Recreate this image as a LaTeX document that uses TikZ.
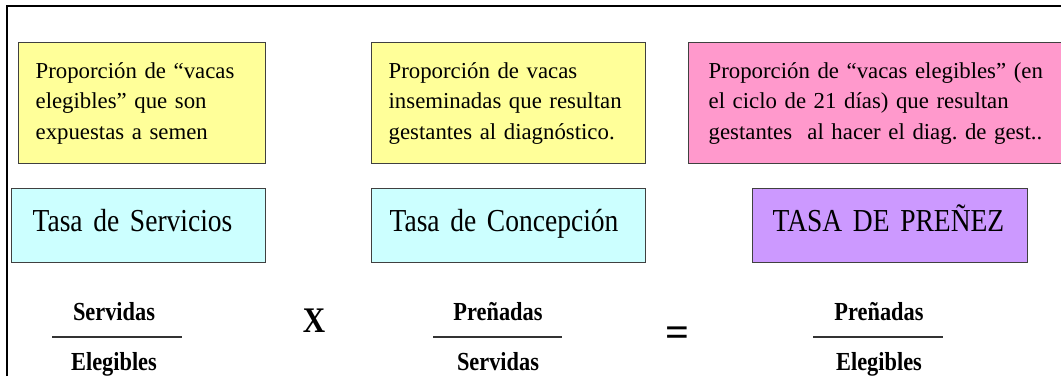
\documentclass[tikz,border=0pt]{standalone}
\usepackage{fontspec}
\setmainfont{Liberation Serif}
\newfontfamily\estrecha[FakeStretch=0.86]{Liberation Serif}
\usepackage{tikz}
\usetikzlibrary{positioning}

\definecolor{amarillo}{HTML}{FFFF99}
\definecolor{celeste}{HTML}{CCFFFF}
\definecolor{rosa}{HTML}{FF99CC}
\definecolor{lila}{HTML}{CC99FF}

\tikzset{
  caja/.style={draw=black!75, line width=1.3pt, anchor=north west, align=left, inner ysep=0pt},
  nota/.style={caja, font=\fontsize{22.8}{30.5}\selectfont\frenchspacing, minimum height=121pt},
  tasa/.style={caja, font=\estrecha\fontsize{32}{34}\selectfont, minimum height=74pt, text height=22pt, text depth=10pt},
  frac/.style={font=\estrecha\bfseries\fontsize{26}{28}\selectfont, anchor=base},
  barra/.style={line width=2pt, black!80}
}

\begin{document}
\begin{tikzpicture}[x=1pt, y=-1pt]
            \clip (0,0) rectangle (1061,376);             % page size
            \draw [line width=1.5pt] (7,376) -- (7,6) -- (1061,6);   % frame
            % definitions
            \node [nota, fill=amarillo, inner xsep=17pt, text width=213pt] (def1) at (18,42)
              {Proporción de “vacas\\elegibles” que son\\expuestas a semen};
            \node [nota, fill=amarillo, inner xsep=17pt, text width=240pt] (def2) at (371,42)
              {Proporción de vacas\\inseminadas que resultan\\gestantes al diagnóstico.};
            \node [nota, fill=rosa, inner xsep=20pt, text width=370pt] (def3) at (688,42)
              {Proporción de “vacas elegibles” (en\\el ciclo de 21 días) que resultan\\gestantes \ al hacer el diag. de gest..};
            % rates
            \node [tasa, fill=celeste, inner xsep=21pt, text width=212pt] (tasa1) at (11,188) {Tasa de Servicios};
            \node [tasa, fill=celeste, inner xsep=18pt, text width=238pt] (tasa2) at (371,188) {Tasa de Concepción};
            \node [tasa, fill=lila, inner xsep=20pt, text width=235pt] (tasa3) at (752,188) {TASA DE PREÑEZ};
            % formula
            \node [frac] (num1) at (114,320) {Servidas};
            \node [frac] (den1) at (114,370) {Elegibles};
            \draw [barra] (52,337) -- (182,337);
            \node [frac, font=\estrecha\bfseries\fontsize{36}{38}\selectfont] (por) at (314,332) {X};
            \node [frac] (num2) at (498,320) {Preñadas};
            \node [frac] (den2) at (498,370) {Servidas};
            \draw [barra] (433,337) -- (562,337);
            \node [frac, font=\bfseries\fontsize{42}{44}\selectfont] (igual) at (677,346) {=};
            \node [frac] (num3) at (879,320) {Preñadas};
            \node [frac] (den3) at (879,370) {Elegibles};
            \draw [barra] (813,337) -- (943,337);
\end{tikzpicture}
\end{document}
